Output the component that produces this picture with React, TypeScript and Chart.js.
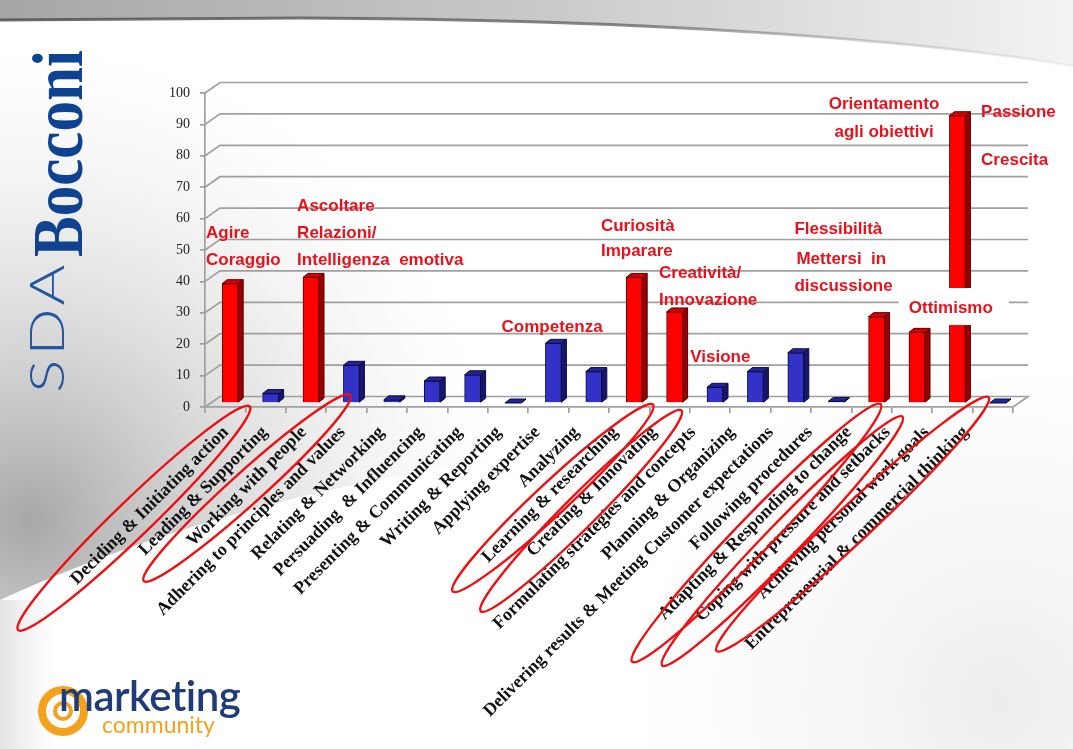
import React, { useEffect, useRef } from "react";
import { Chart, registerables } from "chart.js";

Chart.register(...registerables);

// ---------- data ----------
const categories = [
  "Deciding & Initiating action",
  "Leading & Supporting",
  "Working with people",
  "Adhering to principles and values",
  "Relating & Networking",
  "Persuading  & Influencing",
  "Presenting & Communicating",
  "Writing & Reporting",
  "Applying expertise",
  "Analyzing",
  "Learning & researching",
  "Creating & Innovating",
  "Formulating strategies and concepts",
  "Planning & Organizing",
  "Delivering results & Meeting Customer expectations",
  "Following procedures",
  "Adapting & Responding to change",
  "Coping with pressure and setbacks",
  "Achieving personal work goals",
  "Entrepreneurial & commercial thinking",
];
const scores = [38, 3, 40, 12, 1, 7, 9, 0, 19, 10, 40, 29, 5, 10, 16, 0.5, 27.5, 22.5, 91.5, 0];
const highlighted = [true, false, true, false, false, false, false, false, false, false, true, true, false, false, false, false, true, true, true, false];
const yMin = 0;
const yMax = 100;
const yStep = 10;
// the rotated category names sit on a slightly tighter pitch than the bars
const labelAxisMin = -0.02;
const labelAxisMax = 19.7;

// red callouts: text, position in (category index, value) units
const noteText = [
  "Agire", "Coraggio",
  "Ascoltare", "Relazioni/", "Intelligenza  emotiva",
  "Competenza",
  "Curiosità", "Imparare",
  "Creatività/", "Innovazione",
  "Visione",
  "Flessibilità", "Mettersi  in", "discussione",
  "Ottimismo",
  "Orientamento", "agli obiettivi",
  "Passione", "Crescita",
];
const noteCat = [-0.475, -0.475, 1.78, 1.78, 1.78, 6.84, 9.3, 9.3, 10.74, 10.74, 11.51, 14.09, 14.14, 14.09, 16.92, 14.94, 15.08, 18.71, 18.71];
const noteValue = [55.4, 46.8, 64, 55.4, 46.8, 25.5, 57.6, 49.7, 42.7, 34.1, 15.9, 56.7, 47.1, 38.5, 31.5, 96.5, 87.6, 94, 78.7];
// white box behind "Ottimismo"
const boxCat = [16.67, 19.4];
const boxValue = [26.1, 37.9];

// hand-drawn red rings round some labels (centre in category/value units)
const ringCat = [-2.26, 0.54, 8.11, 8.81, 13.15, 13.79, 15.53];
const ringValue = [-35.4, -25.8, -29.0, -33.1, -40.1, -42.7, -37.3];
const ringHalfLength = [161, 139, 137, 142, 179, 173, 186];
const ringHalfWidth = [18, 16, 16, 16, 18, 17, 18];
const ringAngle = [-44, -42, -43, -45, -46, -46, -43];

// ---------- styling ----------
const RED = "#ff0000";
const RED_SIDE = "#9a0000";
const RED_TOP = "#d80000";
const BLUE = "#3232c8";
const BLUE_SIDE = "#16166e";
const BLUE_TOP = "#24249a";
const GRID = "#a0a0a0";
const WALL_DX = 15;
const WALL_DY = 10.5;
const BAR_SHIFT_X = 5;
const BAR_SHIFT_Y = 4;
const BAR_DX = 5;
const BAR_DY = 4;

const backgroundPlugin = {
  id: "slideBg",
  beforeDraw(chart: any) {
    const ctx = chart.ctx as CanvasRenderingContext2D;
    const W = chart.width;
    const H = chart.height;
    ctx.save();
    ctx.fillStyle = "#ffffff";
    ctx.fillRect(0, 0, W, H);

    // soft grey swoosh at left, bounded below by a white wave
    ctx.save();
    ctx.beginPath();
    ctx.moveTo(0, 0);
    ctx.lineTo(800, 0);
    ctx.lineTo(800, 440);
    ctx.bezierCurveTo(480, 442, 220, 500, 0, 600);
    ctx.closePath();
    ctx.clip();
    const g = ctx.createRadialGradient(30, 520, 10, 30, 520, 480);
    g.addColorStop(0, "rgba(165,165,165,0.95)");
    g.addColorStop(0.4, "rgba(195,195,195,0.6)");
    g.addColorStop(1, "rgba(235,235,235,0)");
    ctx.fillStyle = g;
    ctx.fillRect(0, 0, W, H);
    ctx.restore();

    // faint grey at the lower left edge
    const g2 = ctx.createLinearGradient(0, 0, 60, 0);
    g2.addColorStop(0, "rgba(215,215,215,0.7)");
    g2.addColorStop(1, "rgba(235,235,235,0)");
    ctx.fillStyle = g2;
    ctx.fillRect(0, 600, 60, 149);

    // faint grey lower right
    const g3 = ctx.createRadialGradient(1000, 700, 10, 1000, 700, 380);
    g3.addColorStop(0, "rgba(225,225,225,0.6)");
    g3.addColorStop(1, "rgba(240,240,240,0)");
    ctx.fillStyle = g3;
    ctx.fillRect(600, 380, 473, 369);

    // top grey band
    ctx.beginPath();
    ctx.moveTo(0, 0);
    ctx.lineTo(W, 0);
    ctx.lineTo(W, 66);
    ctx.bezierCurveTo(920, 40, 650, 19, 300, 18);
    ctx.lineTo(0, 20);
    ctx.closePath();
    const tg = ctx.createLinearGradient(0, 0, W, 0);
    tg.addColorStop(0, "#a6a6a6");
    tg.addColorStop(0.5, "#c9c9c9");
    tg.addColorStop(1, "#f3f3f3");
    ctx.fillStyle = tg;
    ctx.fill();

    ctx.beginPath();
    ctx.moveTo(0, 20);
    ctx.lineTo(300, 18);
    ctx.bezierCurveTo(650, 19, 920, 40, W, 66);
    const lg = ctx.createLinearGradient(0, 0, W, 0);
    lg.addColorStop(0, "rgba(70,70,70,0.8)");
    lg.addColorStop(0.6, "rgba(90,90,90,0.7)");
    lg.addColorStop(1, "rgba(200,200,200,0.2)");
    ctx.strokeStyle = lg;
    ctx.lineWidth = 3;
    ctx.stroke();
    ctx.restore();
  },
};

const wallsPlugin = {
  id: "walls3d",
  beforeDatasetsDraw(chart: any) {
    const ctx = chart.ctx as CanvasRenderingContext2D;
    const { left, right } = chart.chartArea;
    const y = chart.scales.y;
    ctx.save();
    ctx.strokeStyle = GRID;
    ctx.lineWidth = 1.7;
    for (let v = yMin; v <= yMax; v += yStep) {
      const py = y.getPixelForValue(v);
      ctx.beginPath();
      ctx.moveTo(left, py);
      ctx.lineTo(left + WALL_DX, py - WALL_DY);
      ctx.lineTo(right + WALL_DX, py - WALL_DY);
      if (v === yMin) ctx.lineTo(right, py);
      ctx.stroke();
    }
    ctx.restore();
    ctx.save();
    ctx.translate(BAR_SHIFT_X, -BAR_SHIFT_Y);
  },
  afterDatasetsDraw(chart: any) {
    const ctx = chart.ctx as CanvasRenderingContext2D;
    const meta = chart.getDatasetMeta(0);
    meta.data.forEach((el: any, i: number) => {
      const { x, y, base, width } = el.getProps(["x", "y", "base", "width"], true);
      const l = x - width / 2;
      const r = x + width / 2;
      const hot = highlighted[i];
      ctx.lineWidth = 1;
      ctx.strokeStyle = hot ? "#5a0000" : "#0c0c40";
      // side
      ctx.beginPath();
      ctx.moveTo(r, y);
      ctx.lineTo(r + BAR_DX, y - BAR_DY);
      ctx.lineTo(r + BAR_DX, base - BAR_DY);
      ctx.lineTo(r, base);
      ctx.closePath();
      ctx.fillStyle = hot ? RED_SIDE : BLUE_SIDE;
      ctx.fill();
      ctx.stroke();
      // top
      ctx.beginPath();
      ctx.moveTo(l, y);
      ctx.lineTo(l + BAR_DX, y - BAR_DY);
      ctx.lineTo(r + BAR_DX, y - BAR_DY);
      ctx.lineTo(r, y);
      ctx.closePath();
      ctx.fillStyle = hot ? RED_TOP : BLUE_TOP;
      ctx.fill();
      ctx.stroke();
    });
    ctx.restore();
  },
};

const notesPlugin = {
  id: "notes",
  afterDraw(chart: any) {
    const ctx = chart.ctx as CanvasRenderingContext2D;
    const xs = chart.scales.x;
    const ys = chart.scales.y;
    ctx.save();
    // white box
    const bx0 = xs.getPixelForValue(boxCat[0]);
    const bx1 = xs.getPixelForValue(boxCat[1]);
    const by0 = ys.getPixelForValue(boxValue[1]);
    const by1 = ys.getPixelForValue(boxValue[0]);
    ctx.fillStyle = "#ffffff";
    ctx.fillRect(bx0, by0, bx1 - bx0, by1 - by0);

    ctx.fillStyle = "#e8121c";
    ctx.font = "bold 17px 'Liberation Sans', Arial, sans-serif";
    ctx.textAlign = "left";
    ctx.textBaseline = "middle";
    noteText.forEach((t, i) => {
      ctx.fillText(t, xs.getPixelForValue(noteCat[i]), ys.getPixelForValue(noteValue[i]));
    });

    // rings
    ctx.strokeStyle = "#ee1010";
    ctx.lineWidth = 2.4;
    ringCat.forEach((c, i) => {
      ctx.beginPath();
      ctx.ellipse(
        xs.getPixelForValue(c),
        ys.getPixelForValue(ringValue[i]),
        ringHalfLength[i],
        ringHalfWidth[i],
        (ringAngle[i] * Math.PI) / 180,
        0,
        Math.PI * 2
      );
      ctx.stroke();
    });
    ctx.restore();
  },
};

export default function App() {
  const canvasRef = useRef<HTMLCanvasElement | null>(null);

  useEffect(() => {
    const canvas = canvasRef.current;
    if (!canvas) return;
    const labelFont = { family: "'Liberation Serif', 'Times New Roman', serif", size: 18, weight: "bold" as const };
    const chart = new Chart(canvas, {
      type: "bar",
      data: {
        labels: categories,
        datasets: [
          {
            data: scores,
            backgroundColor: highlighted.map((h) => (h ? RED : BLUE)),
            borderColor: highlighted.map((h) => (h ? "#5a0000" : "#0c0c40")),
            borderWidth: 1,
            barThickness: 16,
            clip: false as any,
          },
        ],
      },
      options: {
        responsive: false,
        animation: false,
        devicePixelRatio: 1,
        layout: { padding: { top: 93, right: 60, left: 0, bottom: 0 } },
        plugins: { legend: { display: false }, tooltip: { enabled: false } },
        scales: {
          x: {
            type: "category",
            position: "bottom",
            weight: 0,
            offset: true,
            grid: {
              offset: true,
              drawOnChartArea: false,
              drawTicks: true,
              tickLength: 6,
              color: GRID,
              lineWidth: 1.7,
            },
            border: { display: true, color: GRID, width: 1.7 },
            ticks: { display: false, autoSkip: false },
            afterFit: (s: any) => {
              s.height = 6;
            },
          },
          xl: {
            type: "linear",
            position: "bottom",
            weight: 1,
            bounds: "data",
            min: labelAxisMin,
            max: labelAxisMax,
            grid: { display: false, drawTicks: false },
            border: { display: false },
            afterBuildTicks: (s: any) => {
              s.ticks = categories.map((_, i) => ({ value: i }));
            },
            ticks: {
              autoSkip: false,
              minRotation: 45,
              maxRotation: 45,
              padding: 9,
              color: "#111111",
              font: labelFont,
              callback: (v: any) => categories[Math.round(v)] ?? "",
            },
            afterFit: (s: any) => {
              s.height = 336;
            },
          },
          y: {
            min: yMin,
            max: yMax,
            grid: {
              drawOnChartArea: false,
              drawTicks: true,
              tickLength: 5,
              color: GRID,
              lineWidth: 1.7,
            },
            border: { display: true, color: GRID, width: 1.7 },
            ticks: {
              stepSize: yStep,
              padding: 10,
              color: "#222222",
              font: { family: "'Liberation Serif', 'Times New Roman', serif", size: 14 },
            },
            afterFit: (s: any) => {
              s.width = 205;
            },
          },
        },
      } as any,
      plugins: [backgroundPlugin, wallsPlugin, notesPlugin],
    });
    return () => chart.destroy();
  }, []);

  return (
    <div style={{ position: "fixed", left: 0, top: 0, width: 1073, height: 749, overflow: "hidden", background: "#fff" }}>
      <canvas ref={canvasRef} width={1073} height={749} style={{ position: "absolute", left: 0, top: 0, width: 1073, height: 749 }} />
      {/* SDA Bocconi vertical logo */}
      <div
        style={{
          position: "absolute",
          left: 17,
          top: 393,
          transform: "rotate(-90deg) scaleX(1.3)",
          transformOrigin: "0 0",
          whiteSpace: "nowrap",
          color: "#2456a0",
          fontFamily: "Lato, 'Open Sans', sans-serif",
          fontWeight: 300,
          fontSize: 48,
          letterSpacing: 3,
          lineHeight: "57.6px",
        }}
      >
        SDA
      </div>
      <div
        style={{
          position: "absolute",
          left: 18,
          top: 257,
          transform: "rotate(-90deg) scaleX(0.86)",
          transformOrigin: "0 0",
          whiteSpace: "nowrap",
          color: "#0f4290",
          fontFamily: "'Liberation Serif', serif",
          fontWeight: "bold",
          fontSize: 71,
          lineHeight: "80px",
        }}
      >
        Bocconi
      </div>
      {/* marketing community logo */}
      <div style={{ position: "absolute", left: 38, top: 686, width: 34, height: 34, borderRadius: "50%", border: "8px solid #f4a21d" }} />
      <div style={{ position: "absolute", left: 53, top: 701, width: 12, height: 12, borderRadius: "50%", border: "4px solid #f4a21d" }} />
      <div
        style={{
          position: "absolute",
          left: 59,
          top: 671,
          fontFamily: "Lato, 'Open Sans', sans-serif",
          fontWeight: 600,
          fontSize: 42,
          color: "#1f3c7a",
          letterSpacing: -0.5,
          whiteSpace: "nowrap",
          lineHeight: "48px",
        }}
      >
        marketing
      </div>
      <div
        style={{
          position: "absolute",
          left: 102,
          top: 711,
          fontFamily: "Lato, 'Open Sans', sans-serif",
          fontSize: 23,
          color: "#f2a31b",
          whiteSpace: "nowrap",
          lineHeight: "26px",
        }}
      >
        community
      </div>
    </div>
  );
}
